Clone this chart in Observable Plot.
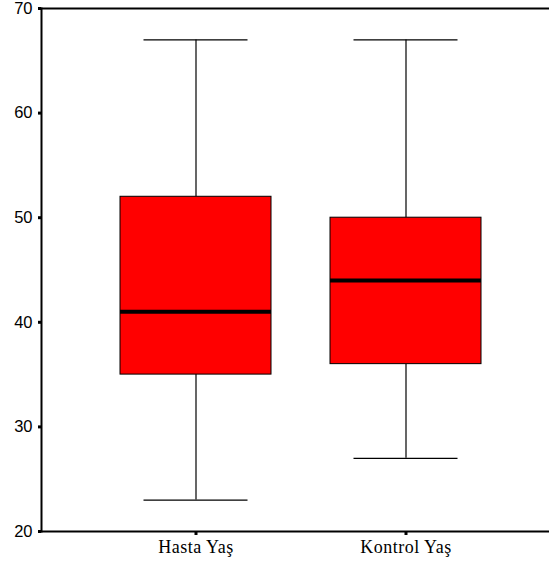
<!DOCTYPE html>
<html>
<head>
<meta charset="utf-8">
<script src="https://cdn.jsdelivr.net/npm/d3@7"></script>
<script src="https://cdn.jsdelivr.net/npm/@observablehq/plot@0.6"></script>
<style>
  html, body { margin: 0; padding: 0; background: #fff; }
</style>
</head>
<body>
<div id="chart"></div>
<script>
const categories = ["Hasta Yaş", "Kontrol Yaş"];
const whiskerLow = [23, 27];
const q1 = [35, 36];
const median = [41, 44];
const q3 = [52, 50];
const whiskerHigh = [67, 67];
const yTicks = [20, 30, 40, 50, 60, 70];

const data = categories.map((c, i) => ({
  cat: c, lo: whiskerLow[i], q1: q1[i], med: median[i], q3: q3[i], hi: whiskerHigh[i]
}));

const chart = Plot.plot({
  width: 549,
  height: 570,
  marginLeft: 41,
  marginRight: 0,
  marginTop: 8,
  marginBottom: 39,
  style: {fontFamily: "Liberation Sans, Arial, sans-serif", background: "#fff"},
  x: {domain: categories, paddingInner: 0.281, paddingOuter: 0.35, align: 0.534, label: null},
  y: {domain: [20, 70], label: null},
  marks: [
    Plot.ruleX(data, {x: "cat", y1: "lo", y2: "q1", stroke: "black", strokeWidth: 1.2}),
    Plot.ruleX(data, {x: "cat", y1: "q3", y2: "hi", stroke: "black", strokeWidth: 1.2}),
    Plot.tickY(data, {x: "cat", y: "lo", stroke: "black", strokeWidth: 1.2, insetLeft: 23.5, insetRight: 23.5}),
    Plot.tickY(data, {x: "cat", y: "hi", stroke: "black", strokeWidth: 1.2, insetLeft: 23.5, insetRight: 23.5}),
    Plot.barY(data, {x: "cat", y1: "q1", y2: "q3", fill: "#ff0000", stroke: "black", strokeWidth: 1}),
    Plot.tickY(data, {x: "cat", y: "med", stroke: "black", strokeWidth: 4}),
    Plot.ruleY([20], {stroke: "black", strokeWidth: 2}),
    Plot.ruleY([70], {stroke: "black", strokeWidth: 2}),
    Plot.frame({anchor: "left", stroke: "black", strokeWidth: 2}),
    Plot.axisY({ticks: yTicks, tickSize: 3, tickPadding: 6, fontSize: 16.5, fill: "black", label: null}),
    Plot.axisX({tickSize: 4, tickPadding: 5, fontSize: 18, fontFamily: "Liberation Serif, Times New Roman, serif", fill: "black", label: null})
  ]
});
document.getElementById("chart").appendChild(chart);
d3.select(chart).selectAll("[aria-label='y-axis tick'], [aria-label='x-axis tick'], [aria-label='y-axis tick'] path, [aria-label='x-axis tick'] path")
  .attr("stroke-width", 3).attr("stroke", "black").attr("stroke-opacity", 1)
  .style("stroke-width", "3px");
d3.select(chart).selectAll("[aria-label='x-axis tick label'] text").style("letter-spacing", "0.5px");
</script>
</body>
</html>
